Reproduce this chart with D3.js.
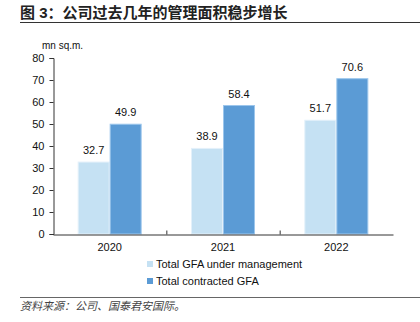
<!DOCTYPE html>
<html><head><meta charset="utf-8">
<script src="https://cdn.jsdelivr.net/npm/d3@7"></script>
<style>body{margin:0;background:#fff}svg{display:block}</style>
</head><body>
<script>
const categories = ["2020", "2021", "2022"];
const seriesNames = ["Total GFA under management", "Total contracted GFA"];
const gfaManaged = [32.7, 38.9, 51.7];
const gfaContracted = [49.9, 58.4, 70.6];
const yTicks = [0, 10, 20, 30, 40, 50, 60, 70, 80];
const colors = ["#c5e1f3", "#5b9bd5"];
const strokes = ["#e3f0fa", "#9cc6ec"];

const W = 420, H = 322;
const svg = d3.select("body").append("svg").attr("width", W).attr("height", H);
const font = "'Liberation Sans', Arial, 'Noto Sans CJK SC', sans-serif";

// title
svg.append("text").attr("x", 20).attr("y", 18)
  .attr("font-family", "'Liberation Sans', 'Noto Sans CJK SC', sans-serif")
  .attr("font-weight", "bold").attr("font-size", 15).attr("fill", "#222")
  .text("图 3：公司过去几年的管理面积稳步增长");
svg.append("line").attr("x1", 20).attr("x2", 420).attr("y1", 22.5).attr("y2", 22.5)
  .attr("stroke", "#333").attr("stroke-width", 1);

const x0 = d3.scaleBand().domain(categories).range([53, 393]).paddingInner(0).paddingOuter(0);
const x1 = d3.scaleBand().domain([0, 1]).range([0, 64]);
const y = d3.scaleLinear().domain([0, 80]).range([234, 58]);

// y axis
const yAxis = d3.axisLeft(y).tickValues(yTicks).tickSize(4).tickPadding(5).tickFormat(d3.format("d"));
const gy = svg.append("g").attr("transform", "translate(53.5,0)").call(yAxis);
gy.selectAll("path,line").attr("stroke", "#333");
gy.selectAll("text").attr("font-family", font).attr("font-size", 11).attr("fill", "#111");

svg.append("text").attr("x", 42).attr("y", 49).attr("font-family", font)
  .attr("font-size", 10).attr("fill", "#111").text("mn sq.m.");

// bars
const data = categories.map((c, i) => ({ c, v: [gfaManaged[i], gfaContracted[i]] }));
const grp = svg.append("g").selectAll("g").data(data).join("g")
  .attr("transform", d => `translate(${x0(d.c) + x0.bandwidth() / 2 - 32},0)`);
grp.selectAll("rect").data(d => d.v.map((v, k) => ({ v, k }))).join("rect")
  .attr("x", d => x1(d.k) + 0.5).attr("width", x1.bandwidth() - 1)
  .attr("y", d => y(d.v)).attr("height", d => y(0) - y(d.v))
  .attr("fill", d => colors[d.k]).attr("stroke", d => strokes[d.k]).attr("stroke-width", 1);
grp.selectAll("text.val").data(d => d.v.map((v, k) => ({ v, k }))).join("text")
  .attr("class", "val")
  .attr("x", d => x1(d.k) + x1.bandwidth() / 2).attr("y", d => y(d.v) - 8)
  .attr("text-anchor", "middle").attr("font-family", font).attr("font-size", 11).attr("fill", "#111")
  .text(d => d3.format(".1f")(d.v));

// x axis
const xAxis = d3.axisBottom(x0).tickSize(0).tickPadding(9);
const gx = svg.append("g").attr("transform", "translate(0,234.5)").call(xAxis);
gx.select("path").attr("stroke", "#333");
gx.selectAll("text").attr("font-family", font).attr("font-size", 11).attr("fill", "#111");
// boundary ticks
gx.selectAll("line.b").data(categories.slice(1)).join("line").attr("class", "b")
  .attr("x1", d => x0(d) + 0.5).attr("x2", d => x0(d) + 0.5).attr("y1", 0).attr("y2", -4)
  .attr("stroke", "#333");

// legend
const lg = svg.append("g").selectAll("g").data(seriesNames).join("g")
  .attr("transform", (d, i) => `translate(147,${261 + i * 17})`);
lg.append("rect").attr("width", 6).attr("height", 6).attr("fill", (d, i) => colors[i]);
lg.append("text").attr("x", 9).attr("y", 7).attr("font-family", font).attr("font-size", 11)
  .attr("fill", "#111").text(d => d);

// source
svg.append("line").attr("x1", 20).attr("x2", 420).attr("y1", 297.5).attr("y2", 297.5)
  .attr("stroke", "#666").attr("stroke-width", 1);
svg.append("text").attr("x", 20).attr("y", 310).attr("font-family", "'Noto Sans CJK SC', sans-serif")
  .attr("font-style", "italic").attr("font-size", 11).attr("fill", "#444")
  .text("资料来源：公司、国泰君安国际。");
</script>
</body></html>
